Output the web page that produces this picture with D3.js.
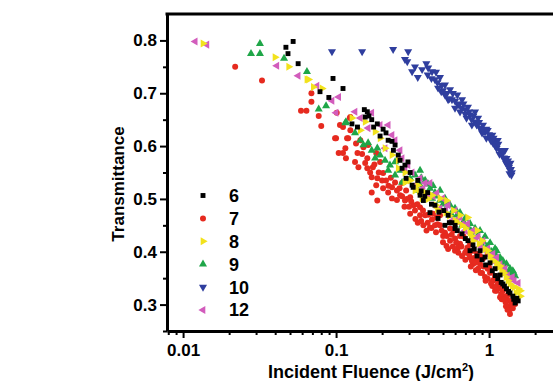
<!DOCTYPE html>
<html>
<head>
<meta charset="utf-8">
<script src="https://cdn.jsdelivr.net/npm/d3@7"></script>
<style>
  body { margin: 0; background: #fff; }
  svg { display: block; }
  text { font-family: "Liberation Sans", Arial, sans-serif; font-weight: bold; fill: #000; }
</style>
</head>
<body>
<svg id="chart" width="553" height="381"></svg>
<script>
// legend labels, one per series
const seriesLabels = ["6", "7", "8", "9", "10", "12"];

// [incident fluence (J/cm2), transmittance]
const s6 = [[0.0524,0.798],[0.047,0.787],[0.0485,0.775],[0.0565,0.756],[0.0955,0.728],[0.111,0.709],[0.0785,0.703],[0.0897,0.692],
  [0.138,0.636],[0.127,0.642],[0.153,0.669],[0.16,0.665],[0.164,0.657],[0.171,0.650],[0.176,0.636],[0.186,0.642],[0.203,0.632],
  [0.212,0.625],[0.194,0.619],[0.219,0.611],[0.232,0.609],[0.243,0.602],[0.237,0.592],[0.255,0.583],[0.262,0.573],[0.282,0.564],
  [0.295,0.570],[0.270,0.558],[0.305,0.550],[0.287,0.539],[0.314,0.526],[0.319,0.522],[0.342,0.535],[0.372,0.497],[0.397,0.512],
  [0.443,0.488],[0.506,0.478],[0.540,0.469],[0.572,0.455],[0.620,0.440],[0.666,0.434],[0.728,0.421],[0.785,0.413],[0.873,0.402],
  [0.941,0.390],[1.015,0.379],[1.094,0.368],[1.18,0.356],[1.23,0.339],[1.30,0.330],[1.37,0.322],[1.43,0.316],[1.52,0.312],
  [1.55,0.307],[1.48,0.303],[0.411,0.474],[0.464,0.463],[0.354,0.507],[0.155,0.655],[0.515,0.450],[0.599,0.444],[0.751,0.402],
  [0.835,0.392],[1.05,0.364],[1.14,0.349],
  [0.36,0.515],[0.38,0.505],[0.42,0.490],[0.47,0.475],[0.55,0.455],[0.60,0.450],[0.70,0.425],[0.80,0.405],[0.90,0.385],
  [0.95,0.375],[1.10,0.355],[1.20,0.342],[1.26,0.335],[1.34,0.325],[1.45,0.310]];

const s7 = [[0.0219,0.750],[0.0328,0.724],[0.069,0.700],[0.069,0.684],[0.059,0.667],[0.064,0.667],[0.077,0.657],[0.080,0.638],
  [0.100,0.615],[0.118,0.615],[0.104,0.587],[0.116,0.577],[0.115,0.596],[0.111,0.636],[0.123,0.653],
  [0.0985,0.615],[0.120,0.615],[0.111,0.587],[0.138,0.587],[0.133,0.570],[0.140,0.560],[0.160,0.577],[0.151,0.598],
  [0.160,0.558],[0.167,0.550],[0.174,0.560],[0.171,0.541],[0.186,0.539],[0.183,0.526],[0.203,0.549],[0.212,0.535],
  [0.203,0.520],[0.232,0.522],[0.243,0.531],[0.250,0.516],[0.270,0.530],[0.144,0.611],[0.124,0.630],[0.106,0.640],
  [0.162,0.602],[0.183,0.587],[0.194,0.570],[0.101,0.663],[0.124,0.655],
  [0.305,0.503],[0.305,0.472],[0.322,0.488],[0.354,0.484],[0.382,0.469],[0.411,0.446],[0.424,0.461],[0.456,0.465],
  [0.478,0.450],[0.515,0.436],[0.556,0.444],[0.585,0.440],[0.599,0.425],[0.646,0.415],[0.681,0.429],[0.724,0.408],
  [0.751,0.415],[0.751,0.389],[0.785,0.402],[0.785,0.377],[0.835,0.396],[0.873,0.377],[0.913,0.387],[0.98,0.396],
  [0.98,0.368],[1.015,0.360],[1.06,0.345],[1.094,0.354],[1.14,0.339],[1.18,0.331],[1.23,0.326],[1.27,0.316],
  [1.30,0.312],[1.35,0.307],[1.37,0.297],[1.43,0.293],[1.37,0.282],[1.40,0.303],[1.48,0.301],[1.29,0.297],
  [1.21,0.310],[1.12,0.326],[1.05,0.335],[0.941,0.352],[0.848,0.368],[0.772,0.383],[0.697,0.398],[0.627,0.408],
  [0.556,0.421],[0.501,0.430],[0.443,0.450],[0.397,0.455],[0.354,0.469],[0.328,0.478],[0.282,0.497],[0.262,0.507],
  [0.287,0.516],[0.232,0.501],[0.219,0.512],[0.342,0.455],[0.372,0.450],[0.527,0.411],[0.599,0.402],[0.666,0.392],
  [0.81,0.379],[0.90,0.360],[0.98,0.349],[1.094,0.326],[1.18,0.314],[0.478,0.469],[0.646,0.430],[0.873,0.392],
  [0.31,0.495],[0.33,0.462],[0.34,0.490],[0.36,0.458],[0.37,0.478],[0.39,0.440],[0.40,0.470],[0.42,0.445],[0.43,0.472],
  [0.45,0.437],[0.46,0.452],[0.49,0.440],[0.50,0.418],[0.53,0.430],[0.54,0.405],[0.57,0.432],[0.58,0.410],[0.61,0.418],
  [0.63,0.398],[0.66,0.410],[0.70,0.385],[0.71,0.402],[0.74,0.395],[0.76,0.372],[0.80,0.388],[0.82,0.365],[0.86,0.384],
  [0.88,0.360],[0.92,0.372],[0.95,0.345],[1.00,0.370],[1.03,0.340],[1.08,0.348],[1.10,0.333],[1.16,0.340],[1.20,0.320],
  [1.25,0.330],[1.28,0.305],[1.33,0.318],[1.36,0.290],[1.42,0.300],[1.45,0.312],[1.32,0.290],[1.26,0.310],
  [0.135,0.605],[0.148,0.585],[0.155,0.568],[0.178,0.565],[0.190,0.550],[0.200,0.535],[0.220,0.525],[0.228,0.540],
  [0.260,0.520],[0.270,0.505],[0.250,0.498],[0.290,0.500],[0.280,0.485],[0.300,0.485],[0.171,0.512],[0.186,0.497]];

const s8 = [[0.0135,0.794],[0.0399,0.768],[0.049,0.750],[0.0645,0.726],[0.066,0.726],[0.071,0.712],[0.081,0.709],
  [0.127,0.653],[0.144,0.630],[0.155,0.646],[0.180,0.627],[0.194,0.615],[0.209,0.596],[0.232,0.583],[0.255,0.558],
  [0.282,0.550],[0.305,0.535],[0.342,0.526],[0.382,0.512],[0.424,0.507],[0.478,0.501],[0.527,0.497],[0.585,0.478],
  [0.646,0.469],[0.724,0.465],[0.785,0.421],[0.835,0.440],[0.900,0.421],[0.98,0.402],[1.06,0.383],[1.12,0.379],
  [1.21,0.364],[1.29,0.352],[1.37,0.339],[1.46,0.333],[1.55,0.330],[1.60,0.326],[1.60,0.316],[0.751,0.436],
  [0.666,0.450],[0.599,0.459],[0.521,0.474],[0.450,0.488],[0.365,0.501],[0.328,0.516],[0.282,0.531],[0.255,0.573],
  [1.015,0.392],[1.18,0.373],
  [0.35,0.515],[0.40,0.500],[0.46,0.480],[0.55,0.468],[0.62,0.455],[0.70,0.445],[0.77,0.430],[0.86,0.415],[0.94,0.405],
  [1.04,0.385],[1.15,0.370],[1.25,0.360],[1.33,0.345],[1.42,0.335],[1.50,0.322]];

const s9 = [[0.0318,0.794],[0.0278,0.775],[0.0318,0.775],[0.0457,0.766],[0.0645,0.741],[0.077,0.670],[0.086,0.676],[0.116,0.646],
  [0.115,0.644],[0.133,0.625],[0.144,0.611],[0.151,0.602],[0.162,0.606],[0.171,0.592],[0.186,0.596],[0.194,0.583],
  [0.209,0.573],[0.225,0.564],[0.243,0.570],[0.243,0.545],[0.262,0.554],[0.282,0.535],[0.305,0.539],[0.328,0.545],
  [0.354,0.554],[0.354,0.526],[0.382,0.535],[0.411,0.520],[0.443,0.512],[0.478,0.516],[0.478,0.497],[0.515,0.501],
  [0.556,0.488],[0.599,0.482],[0.646,0.474],[0.697,0.463],[0.751,0.453],[0.810,0.444],[0.873,0.440],[0.941,0.429],
  [1.015,0.417],[1.094,0.406],[1.12,0.402],[1.18,0.389],[1.23,0.383],[1.30,0.377],[1.37,0.368],[1.43,0.364],
  [1.48,0.354],[1.40,0.349],[1.27,0.364],[1.05,0.392],[0.90,0.411],[0.78,0.430],[0.666,0.450],[0.572,0.469],
  [0.515,0.478],[0.424,0.501],[0.342,0.516],[0.270,0.531],[0.219,0.554],[0.180,0.577],
  [0.36,0.540],[0.40,0.528],[0.43,0.525],[0.46,0.505],[0.50,0.490],[0.53,0.492],[0.58,0.478],[0.62,0.470],[0.68,0.457],
  [0.72,0.448],[0.76,0.440],[0.84,0.430],[0.92,0.418],[0.97,0.410],[1.04,0.400],[1.10,0.395],[1.15,0.385],[1.25,0.375],
  [1.34,0.360],[1.45,0.360]];

const s10 = [[0.094,0.779],[0.148,0.779],[0.236,0.783],[0.296,0.779],[0.292,0.760],
  [0.282,0.764],[0.328,0.750],[0.389,0.756],[0.397,0.735],[0.424,0.741],[0.443,0.726],[0.478,0.730],[0.464,0.710],
  [0.515,0.716],[0.515,0.697],[0.556,0.707],[0.572,0.688],[0.620,0.697],[0.627,0.678],[0.666,0.688],[0.697,0.669],
  [0.728,0.674],[0.751,0.659],[0.810,0.665],[0.810,0.646],[0.848,0.653],[0.873,0.634],[0.913,0.640],[0.941,0.627],
  [0.98,0.630],[1.015,0.615],[1.05,0.621],[1.094,0.608],[1.12,0.596],[1.18,0.592],[1.21,0.583],[1.27,0.573],
  [1.30,0.577],[1.32,0.564],[1.37,0.554],[1.40,0.545],[1.38,0.568],[1.27,0.592],[1.14,0.611],[1.06,0.606],
  [0.96,0.615],[0.90,0.625],[0.772,0.640],[0.712,0.653],[0.646,0.665],[0.599,0.672],[0.540,0.688],[0.487,0.703],
  [0.365,0.745],[0.342,0.730],[0.314,0.741],
  [0.40,0.748],[0.42,0.728],[0.45,0.740],[0.46,0.720],[0.49,0.715],[0.50,0.705],[0.53,0.700],[0.55,0.690],[0.58,0.700],
  [0.60,0.685],[0.64,0.680],[0.66,0.672],[0.68,0.680],[0.70,0.660],[0.74,0.665],[0.77,0.650],[0.79,0.657],[0.83,0.640],
  [0.86,0.645],[0.89,0.630],[0.92,0.628],[0.96,0.632],[1.00,0.622],[1.03,0.610],[1.07,0.615],[1.10,0.600],[1.15,0.604],
  [1.17,0.585],[1.22,0.590],[1.25,0.578],[1.29,0.568],[1.33,0.572],[1.35,0.560],[1.36,0.548],[1.39,0.556],[1.41,0.550]];

const s12 = [[0.012,0.798],[0.0143,0.792],[0.041,0.752],[0.0565,0.733],[0.075,0.714],[0.094,0.686],[0.104,0.693],[0.100,0.663],
  [0.133,0.665],[0.144,0.653],[0.171,0.663],[0.194,0.640],[0.219,0.640],[0.232,0.621],[0.243,0.611],[0.262,0.592],
  [0.270,0.577],[0.295,0.564],[0.314,0.550],[0.354,0.539],[0.382,0.530],[0.411,0.530],[0.456,0.511],[0.497,0.501],
  [0.540,0.488],[0.599,0.478],[0.646,0.465],[0.724,0.453],[0.785,0.440],[0.848,0.429],[0.913,0.421],[0.98,0.406],
  [1.06,0.396],[1.12,0.389],[1.18,0.377],[1.27,0.368],[1.37,0.350],[1.46,0.345],[1.55,0.341],[0.697,0.440],
  [0.572,0.459],[0.478,0.482],[0.397,0.507],[0.328,0.526],[0.282,0.554],[0.209,0.596],[0.162,0.634],
  [0.37,0.520],[0.43,0.505],[0.52,0.480],[0.62,0.460],[0.67,0.452],[0.75,0.435],[0.82,0.425],[0.88,0.410],[0.95,0.402],
  [1.02,0.392],[1.10,0.380],[1.22,0.370],[1.32,0.355],[1.42,0.352]];

const xTickValues = [0.01, 0.1, 1];
const xMinorTicks = [0.008, 0.009, 0.02, 0.03, 0.04, 0.05, 0.06, 0.07, 0.08, 0.09,
  0.2, 0.3, 0.4, 0.5, 0.6, 0.7, 0.8, 0.9, 2, 3, 4];
const yTickValues = [0.3, 0.4, 0.5, 0.6, 0.7, 0.8];
const yMinorTicks = [0.25, 0.35, 0.45, 0.55, 0.65, 0.75];

const svg = d3.select("#chart");

// plot frame; right side runs off the picture like the original
const plotLeft = 167, plotTop = 14, plotBottom = 331, plotRight = 596;

const x = d3.scaleLog().domain([0.00785, 5]).range([plotLeft, plotRight]);
const y = d3.scaleLinear().domain([0.25, 0.85]).range([plotBottom, plotTop]);

// series styles (drawing order: red underneath, blue on top)
const series = [
  { label: "7",  data: s7,  color: "#e62a1f", type: d3.symbolCircle,   rot: 0,   size: 28 },
  { label: "9",  data: s9,  color: "#1fa648", type: d3.symbolTriangle, rot: 0,   size: 28 },
  { label: "12", data: s12, color: "#d25cbc", type: d3.symbolTriangle, rot: -90, size: 28 },
  { label: "8",  data: s8,  color: "#f2e21c", type: d3.symbolTriangle, rot: 90,  size: 28 },
  { label: "6",  data: s6,  color: "#000000", type: d3.symbolSquare,   rot: 0,   size: 24 },
  { label: "10", data: s10, color: "#2f3e9e", type: d3.symbolTriangle, rot: 180, size: 28 }
];

series.forEach(s => {
  svg.append("g")
    .selectAll("path")
    .data(s.data)
    .join("path")
    .attr("d", d3.symbol().type(s.type).size(s.size))
    .attr("transform", d => `translate(${x(d[0])},${y(d[1])}) rotate(${s.rot})`)
    .attr("fill", s.color);
});

// axes
const fmtX = d => d >= 1 ? d3.format("d")(d) : String(d);

const xMinor = svg.append("g")
  .attr("transform", `translate(0,${plotBottom})`)
  .call(d3.axisBottom(x).tickValues(xMinorTicks).tickSize(4).tickFormat(""));
const xMajor = svg.append("g")
  .attr("transform", `translate(0,${plotBottom})`)
  .call(d3.axisBottom(x).tickValues(xTickValues).tickSize(7).tickSizeOuter(0).tickPadding(6).tickFormat(fmtX));

const yMinor = svg.append("g")
  .attr("transform", `translate(${plotLeft},0)`)
  .call(d3.axisLeft(y).tickValues(yMinorTicks).tickSize(4).tickFormat(""));
const yMajor = svg.append("g")
  .attr("transform", `translate(${plotLeft},0)`)
  .call(d3.axisLeft(y).tickValues(yTickValues).tickSize(7).tickSizeOuter(0).tickPadding(3).tickFormat(d3.format(".1f")));

[xMinor, yMinor].forEach(g => g.select(".domain").remove());
[xMinor, xMajor, yMinor, yMajor].forEach(g => {
  g.selectAll(".tick line").attr("stroke", "#000").attr("stroke-width", 2);
  g.selectAll(".domain").attr("stroke", "#000").attr("stroke-width", 3);
  g.selectAll("text").attr("font-size", 17).attr("font-family", "Liberation Sans, Arial, sans-serif")
    .attr("font-weight", "bold").attr("fill", "#000");
});

// top frame line
svg.append("line")
  .attr("x1", plotLeft - 1.5).attr("x2", 553)
  .attr("y1", plotTop).attr("y2", plotTop)
  .attr("stroke", "#000").attr("stroke-width", 3);

// axis titles
svg.append("text")
  .attr("transform", `translate(124,184) rotate(-90)`)
  .attr("text-anchor", "middle")
  .attr("font-size", 17)
  .text("Transmittance");

const xt = svg.append("text")
  .attr("x", 371).attr("y", 378)
  .attr("text-anchor", "middle")
  .attr("font-size", 18)
  .text("Incident Fluence (J/cm");
xt.append("tspan").attr("dy", -7).attr("font-size", 11).text("2");
xt.append("tspan").attr("dy", 7).text(")");

// legend
const legend = svg.append("g");
seriesLabels.forEach((lab, i) => {
  const s = series.find(d => d.label === lab);
  const ly = 195.5 + i * 22.9;
  legend.append("path")
    .attr("d", d3.symbol().type(s.type).size(s.size))
    .attr("transform", `translate(203,${ly}) rotate(${s.rot})`)
    .attr("fill", s.color);
  legend.append("text")
    .attr("x", 229).attr("y", ly)
    .attr("dy", "0.36em")
    .attr("font-size", 18)
    .text(lab);
});
</script>
</body>
</html>
